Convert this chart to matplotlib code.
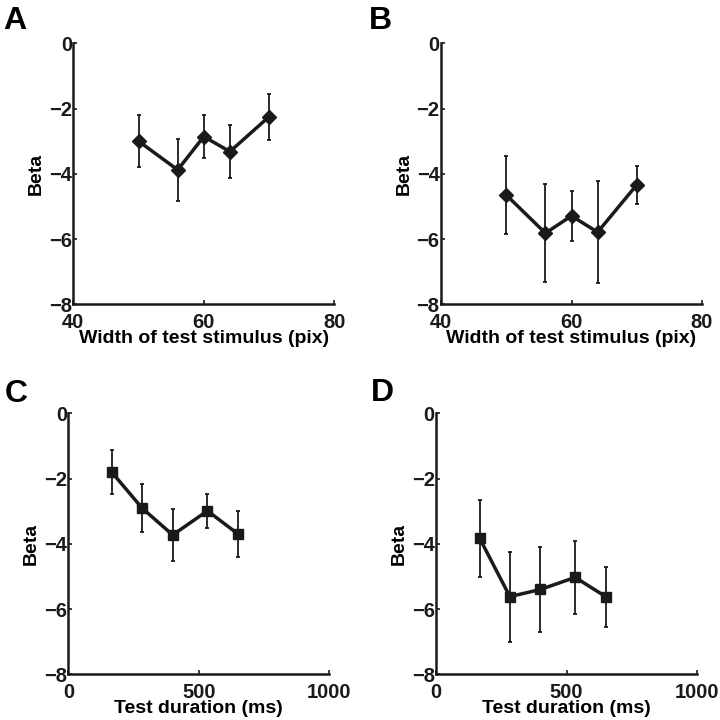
import matplotlib
matplotlib.use('Agg')
import matplotlib.pyplot as plt

plt.rcParams['font.family'] = ['Liberation Sans', 'DejaVu Sans']
plt.rcParams['font.weight'] = 'bold'

# width of test stimulus (pix)
width = [50, 56, 60, 64, 70]
beta_a = [-3.0, -3.88, -2.86, -3.32, -2.25]
err_a = [0.8, 0.95, 0.65, 0.8, 0.7]
beta_b = [-4.65, -5.82, -5.29, -5.79, -4.34]
err_b = [1.2, 1.5, 0.77, 1.57, 0.58]

# test duration (ms)
duration = [167, 283, 400, 533, 650]
beta_c = [-1.81, -2.91, -3.73, -2.99, -3.70]
err_c = [0.67, 0.74, 0.8, 0.52, 0.7]
beta_d = [-3.83, -5.62, -5.40, -5.03, -5.62]
err_d = [1.18, 1.38, 1.3, 1.13, 0.92]

col = '#1a1a1a'

fig = plt.figure(figsize=(7.2, 7.2), dpi=100)

# letter, axes rect, letter position (fig fraction), data, marker, x axis
panels = [
    ('A', [0.1018, 0.5774, 0.3625, 0.3625], (0.004, 0.992), width, beta_a,
     err_a, 'D', (40, 80), [40, 60, 80], 'Width of test stimulus (pix)'),
    ('B', [0.6125, 0.5774, 0.3625, 0.3625], (0.512, 0.992), width, beta_b,
     err_b, 'D', (40, 80), [40, 60, 80], 'Width of test stimulus (pix)'),
    ('C', [0.0949, 0.0635, 0.3625, 0.3625], (0.006, 0.473), duration, beta_c,
     err_c, 's', (0, 1000), [0, 500, 1000], 'Test duration (ms)'),
    ('D', [0.6056, 0.0635, 0.3625, 0.3625], (0.515, 0.475), duration, beta_d,
     err_d, 's', (0, 1000), [0, 500, 1000], 'Test duration (ms)'),
]

for letter, pos, lpos, x, y, e, mk, xlim, xt, xlab in panels:
    ax = fig.add_axes(pos)
    ax.errorbar(x, y, yerr=e, fmt='-', marker=mk, color=col, lw=2.5,
                ms=7 if mk == 'D' else 6.5, ecolor=col, elinewidth=1.3,
                capsize=1.5, capthick=1.3)
    ax.set_xlim(xlim)
    ax.set_ylim(-8, 0)
    ax.set_xticks(xt)
    ax.set_yticks([0, -2, -4, -6, -8])
    ax.set_yticklabels(['0', '\u22122', '\u22124', '\u22126', '\u22128'])
    for s in ['top', 'right']:
        ax.spines[s].set_visible(False)
    for s in ['left', 'bottom']:
        ax.spines[s].set_linewidth(1.8)
        ax.spines[s].set_color(col)
    ax.tick_params(direction='in', length=3, width=1.2, labelsize=14.5,
                   colors=col)
    ax.tick_params(axis='y', pad=1)
    ax.tick_params(axis='x', pad=6)
    ax.set_xlabel(xlab, fontsize=14, fontweight='bold', labelpad=-1)
    ax.set_ylabel('Beta', fontsize=14, fontweight='bold', labelpad=3)
    fig.text(lpos[0], lpos[1], letter, fontsize=23, fontweight='bold',
             va='top', ha='left')

plt.savefig('out.png', dpi=100)
